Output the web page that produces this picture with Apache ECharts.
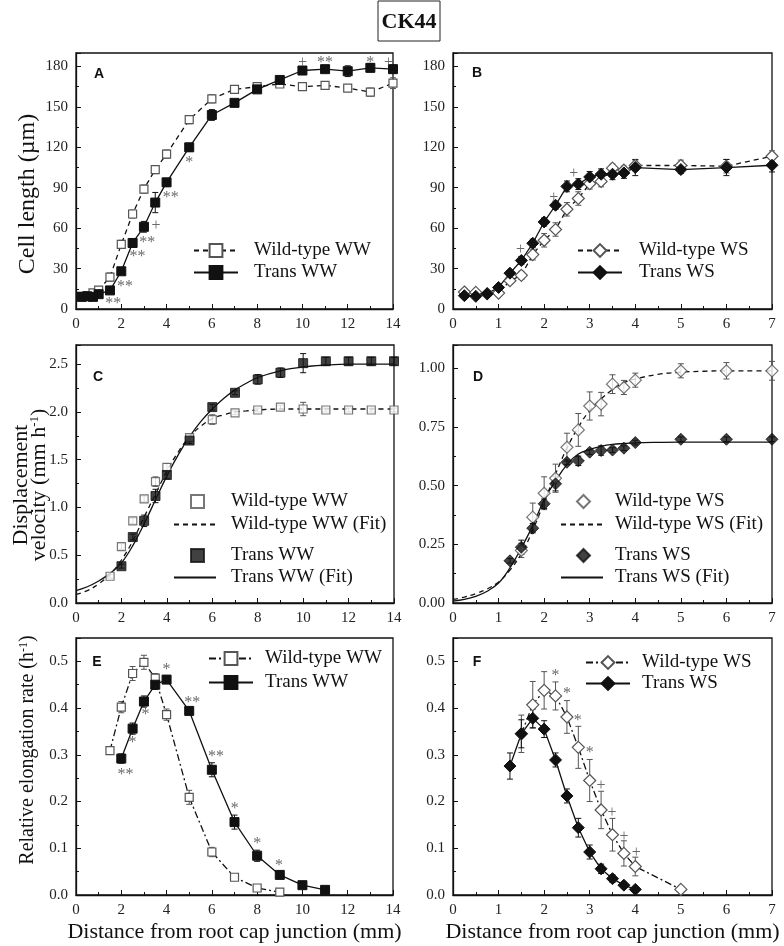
<!DOCTYPE html>
<html>
<head>
<meta charset="utf-8">
<title>CK44</title>
<script src="https://cdn.jsdelivr.net/npm/echarts@6/dist/echarts.min.js"></script>
<style>
  html, body { margin: 0; padding: 0; background: #fff; }
  #chart { width: 784px; height: 946px; }
</style>
</head>
<body>
<div id="chart"></div>
<script>
// ---- data ----
// A: cell length, well watered
const xA = [0.25, 0.5, 0.75, 1, 1.5, 2, 2.5, 3, 3.5, 4, 5, 6, 7, 8, 9, 10, 11, 12, 13, 14]
const wtA = [9.4, 10, 12, 14, 23.7, 48, 70.5, 89, 103.5, 115, 140.5, 156, 163, 165, 167, 165, 166, 164, 161, 167.6]
const wtAErr = [1, 1, 1.5, 2, 3, 3, 3, 3, 3, 3, 3, 3, 2, 2, 2, 2, 2, 2, 3, 4]
const trA = [9, 9.4, 9, 11, 13.8, 28, 49, 61, 79, 94, 120, 144, 153, 163, 170, 177, 178, 176.5, 179, 178]
const trAErr = [1, 1, 1, 1.5, 2, 2, 3, 4, 7.5, 3, 3, 4, 2, 2, 2, 3, 2, 4, 3, 3]
const sigA = [[1.65, 6, "**"], [2.16, 19, "**"], [2.72, 41, "**"], [3.15, 51, "**"], [3.53, 64, "+"], [4.19, 85, "**"], [5.0, 111, "*"],
  [10, 185, "+"], [11, 185, "**"], [13, 185, "*"], [13.8, 185, "+"]]

// B: cell length, water stress
const xB = [0.25, 0.5, 0.75, 1, 1.25, 1.5, 1.75, 2, 2.25, 2.5, 2.75, 3, 3.25, 3.5, 3.75, 4, 5, 6, 7]
const wtB = [12.6, 12.3, 11.3, 11.8, 21, 25, 40.4, 51, 59, 74, 82, 93, 94.7, 104.5, 103, 106.5, 106.5, 106, 113.4]
const wtBErr = [2, 2, 2, 2, 2, 3, 4, 5, 5, 5, 5, 4, 4, 3, 3, 4, 4, 5, 4]
const trB = [9.9, 9.4, 11.3, 16, 26.6, 36, 48.8, 64.6, 77, 91, 92.7, 98, 100, 100, 101, 105, 103.5, 105, 106.7]
const trBErr = [1.5, 1.5, 2, 2, 2, 3, 3, 3, 3, 4, 4, 4, 4, 4, 4, 6, 3, 6, 5]
const sigB = [[1.48, 46, "+"], [2.21, 85, "+"], [2.65, 102.5, "+"]]

// C: displacement velocity, well watered
const wtCX = [1.5, 2, 2.5, 3, 3.5, 4, 5, 6, 7, 8, 9, 10, 11, 12, 13, 14]
const wtC = [0.28, 0.59, 0.86, 1.09, 1.27, 1.42, 1.73, 1.92, 1.99, 2.02, 2.05, 2.03, 2.02, 2.02, 2.02, 2.02]
const wtCErr = [0.02, 0.03, 0.03, 0.03, 0.05, 0.04, 0.03, 0.05, 0.02, 0.02, 0.02, 0.07, 0.02, 0.02, 0.02, 0.02]
const trCX = [2, 2.5, 3, 3.5, 4, 5, 6, 7, 8, 9, 10, 11, 12, 13, 14]
const trC = [0.385, 0.69, 0.86, 1.12, 1.34, 1.70, 2.05, 2.20, 2.34, 2.41, 2.51, 2.53, 2.53, 2.53, 2.53]
const trCErr = [0.02, 0.03, 0.06, 0.07, 0.04, 0.03, 0.03, 0.02, 0.05, 0.05, 0.1, 0.04, 0.04, 0.04, 0.04]
const fitCX = [0, 0.5, 1, 1.5, 2, 2.5, 3, 3.5, 4, 4.5, 5, 5.5, 6, 6.5, 7, 7.5, 8, 9, 10, 11, 12, 13, 14]
const wtCFit = [0.09, 0.13, 0.2, 0.3, 0.45, 0.65, 0.9, 1.14, 1.38, 1.58, 1.74, 1.85, 1.93, 1.97, 2.0, 2.01, 2.02, 2.03, 2.03, 2.03, 2.03, 2.03, 2.03]
const trCFit = [0.13, 0.17, 0.23, 0.31, 0.42, 0.6, 0.83, 1.08, 1.33, 1.55, 1.74, 1.9, 2.03, 2.14, 2.23, 2.3, 2.36, 2.43, 2.47, 2.49, 2.5, 2.5, 2.5]

// D: displacement velocity, water stress
const wtDX = [1.5, 1.75, 2, 2.25, 2.5, 2.75, 3, 3.25, 3.5, 3.75, 4, 5, 6, 7]
const wtD = [0.224, 0.366, 0.468, 0.532, 0.664, 0.738, 0.84, 0.848, 0.933, 0.919, 0.95, 0.99, 0.99, 0.99]
const wtDErr = [0.03, 0.06, 0.07, 0.06, 0.06, 0.07, 0.06, 0.05, 0.04, 0.03, 0.03, 0.03, 0.035, 0.04]
const trDX = [1.25, 1.5, 1.75, 2, 2.25, 2.5, 2.75, 3, 3.25, 3.5, 3.75, 4, 5, 6, 7]
const trD = [0.18, 0.238, 0.319, 0.423, 0.508, 0.60, 0.606, 0.643, 0.65, 0.652, 0.66, 0.684, 0.698, 0.698, 0.698]
const trDErr = [0.01, 0.03, 0.02, 0.02, 0.03, 0.01, 0.02, 0.01, 0.02, 0.01, 0.01, 0.01, 0.01, 0.01, 0.01]
const fitDX = [0, 0.25, 0.5, 0.75, 1, 1.25, 1.5, 1.75, 2, 2.25, 2.5, 2.75, 3, 3.25, 3.5, 3.75, 4, 4.5, 5, 5.5, 6, 6.5, 7]
const wtDFit = [0.015, 0.025, 0.04, 0.06, 0.09, 0.14, 0.21, 0.31, 0.43, 0.55, 0.66, 0.75, 0.82, 0.87, 0.91, 0.94, 0.955, 0.975, 0.984, 0.988, 0.99, 0.99, 0.99]
const trDFit = [0.008, 0.015, 0.028, 0.05, 0.085, 0.15, 0.235, 0.33, 0.44, 0.52, 0.59, 0.635, 0.655, 0.668, 0.676, 0.68, 0.683, 0.685, 0.686, 0.686, 0.686, 0.686, 0.686]

// E: relative elongation rate, well watered
const wtEX = [1.5, 2, 2.5, 3, 3.5, 4, 5, 6, 7, 8, 9]
const wtE = [0.309, 0.402, 0.474, 0.498, 0.464, 0.386, 0.209, 0.092, 0.038, 0.015, 0.006]
const wtEErr = [0.008, 0.012, 0.015, 0.015, 0.01, 0.012, 0.015, 0.01, 0.005, 0.005, 0.005]
const trEX = [2, 2.5, 3, 3.5, 4, 5, 6, 7, 8, 9, 10, 11]
const trE = [0.292, 0.356, 0.414, 0.45, 0.461, 0.394, 0.268, 0.156, 0.084, 0.043, 0.021, 0.011]
const trEErr = [0.01, 0.012, 0.012, 0.01, 0.008, 0.008, 0.015, 0.015, 0.012, 0.008, 0.005, 0.005]
const sigE = [[2.19, 0.264, "**"], [2.5, 0.332, "*"], [3.07, 0.393, "*"], [4.0, 0.488, "*"], [5.13, 0.418, "**"], [6.18, 0.302, "**"],
  [7.01, 0.191, "*"], [8.0, 0.116, "*"], [8.97, 0.069, "*"]]

// F: relative elongation rate, water stress
const wtFX = [1.5, 1.75, 2, 2.25, 2.5, 2.75, 3, 3.25, 3.5, 3.75, 4, 5]
const wtF = [0.345, 0.407, 0.438, 0.426, 0.381, 0.316, 0.245, 0.182, 0.129, 0.089, 0.061, 0.012]
const wtFErr = [0.04, 0.05, 0.04, 0.03, 0.035, 0.045, 0.045, 0.04, 0.035, 0.027, 0.02, 0.005]
const trFX = [1.25, 1.5, 1.75, 2, 2.25, 2.5, 2.75, 3, 3.25, 3.5, 3.75, 4]
const trF = [0.276, 0.345, 0.378, 0.355, 0.289, 0.212, 0.144, 0.092, 0.056, 0.035, 0.021, 0.012]
const trFErr = [0.028, 0.03, 0.02, 0.018, 0.015, 0.015, 0.02, 0.015, 0.01, 0.008, 0.006, 0.005]
const sigF = [[2.25, 0.475, "*"], [2.5, 0.436, "*"], [2.74, 0.38, "*"], [3.0, 0.31, "*"], [3.25, 0.24, "+"], [3.49, 0.182, "+"],
  [3.75, 0.132, "+"], [4.02, 0.096, "+"]]

// ---- styling helpers ----
const SERIF = '"Liberation Serif", "Times New Roman", serif'
const SANS = '"Liberation Sans", Arial, sans-serif'
const INK = "#111"
const GREY = "#555"

const pairs = (xs, ys) => xs.map((x, i) => [x, ys[i]])

// panel rectangles in px
const grids = [
  { left: 76, top: 53, width: 317, height: 256 },
  { left: 453, top: 53, width: 319, height: 256 },
  { left: 76, top: 345, width: 318, height: 258 },
  { left: 453, top: 345, width: 319, height: 258 },
  { left: 76, top: 638, width: 317, height: 257 },
  { left: 453, top: 638, width: 319, height: 257 }
]

function xAxisFor(gi, max, interval, name) {
  return {
    type: "value", gridIndex: gi, min: 0, max: max, interval: interval,
    axisLine: { show: true, onZero: false, lineStyle: { color: INK, width: 1.3 } },
    axisTick: { show: true, inside: true, length: 5, lineStyle: { color: INK } },
    minorTick: { show: true, splitNumber: 2, length: 3, lineStyle: { color: INK } },
    axisLabel: { color: "#222", fontFamily: SERIF, fontSize: 15, margin: 8 },
    splitLine: { show: false },
    name: name || "", nameLocation: "middle", nameGap: 26,
    nameTextStyle: { fontFamily: SERIF, fontSize: 22, color: INK }
  }
}

function yAxisFor(gi, max, interval, digits) {
  return {
    type: "value", gridIndex: gi, min: 0, max: max, interval: interval,
    axisLine: { show: true, onZero: false, lineStyle: { color: INK, width: 1.3 } },
    axisTick: { show: true, inside: true, length: 5, lineStyle: { color: INK } },
    minorTick: { show: true, splitNumber: 2, length: 3, lineStyle: { color: INK } },
    axisLabel: {
      color: "#222", fontFamily: SERIF, fontSize: 15, margin: 8, showMaxLabel: false,
      formatter: v => v.toFixed(digits)
    },
    splitLine: { show: false }
  }
}

// open / filled marker styles
const openStyle = { color: "#fff", borderColor: GREY, borderWidth: 1.2 }
const fillStyle = { color: INK, borderColor: INK, borderWidth: 1 }

function lineSeries(name, gi, xs, ys, opts) {
  return Object.assign({
    name: name, type: "line", xAxisIndex: gi, yAxisIndex: gi,
    data: pairs(xs, ys), z: 3, animation: false
  }, opts)
}

function markerLine(name, gi, xs, ys, symbol, size, open, dash) {
  return lineSeries(name, gi, xs, ys, {
    symbol: symbol, symbolSize: size, showSymbol: true,
    itemStyle: open ? openStyle : fillStyle,
    lineStyle: { color: INK, width: 1.3, type: dash || "solid" }
  })
}

// fitted curves: no markers, so the legend symbol is made invisible too
function fitLine(name, gi, xs, ys, dash) {
  return lineSeries(name, gi, xs, ys, {
    symbol: "none", showSymbol: false, smooth: 0.4, z: 2,
    itemStyle: { color: INK, opacity: 0 },
    lineStyle: { color: INK, width: 1.3, type: dash || "solid", opacity: 1 }
  })
}

function scatterSeries(name, gi, xs, ys, symbol, size, open) {
  return {
    name: name, type: "scatter", xAxisIndex: gi, yAxisIndex: gi,
    data: pairs(xs, ys), symbol: symbol, symbolSize: size, z: 4, animation: false,
    itemStyle: open ? openStyle : fillStyle
  }
}

// vertical error bars with small caps
function errorBars(gi, xs, ys, es, color) {
  return {
    type: "custom", xAxisIndex: gi, yAxisIndex: gi, z: 1, silent: true, animation: false,
    encode: { x: 0, y: [1, 2] },
    data: xs.map((x, i) => [x, ys[i] - es[i], ys[i] + es[i]]),
    renderItem: function (params, api) {
      const lo = api.coord([api.value(0), api.value(1)])
      const hi = api.coord([api.value(0), api.value(2)])
      const st = { stroke: color, lineWidth: 1 }
      return {
        type: "group",
        children: [
          { type: "line", shape: { x1: lo[0], y1: lo[1], x2: hi[0], y2: hi[1] }, style: st },
          { type: "line", shape: { x1: hi[0] - 3, y1: hi[1], x2: hi[0] + 3, y2: hi[1] }, style: st },
          { type: "line", shape: { x1: lo[0] - 3, y1: lo[1], x2: lo[0] + 3, y2: lo[1] }, style: st }
        ]
      }
    }
  }
}

// significance marks (*, **, +)
function marks(gi, list) {
  return {
    type: "scatter", xAxisIndex: gi, yAxisIndex: gi, symbolSize: 1, z: 5, silent: true, animation: false,
    itemStyle: { color: "rgba(0,0,0,0)" },
    data: list.map(d => ({ value: [d[0], d[1]], name: d[2] })),
    label: {
      show: true, position: "inside", formatter: "{b}", offset: [0, 3],
      fontFamily: SERIF, fontSize: 16, color: "#444"
    }
  }
}

function legendFor(names, left, top, w, h, gap, padLeft) {
  return {
    orient: "vertical", left: left, top: top, padding: 0,
    data: names, itemWidth: w, itemHeight: h, itemGap: gap, selectedMode: false,
    formatter: n => n.split("|")[1],
    textStyle: { fontFamily: SERIF, fontSize: 19, color: INK, lineHeight: 19, padding: [0, 0, 0, padLeft] }
  }
}

const DASH = [5, 4]
const DASHDOT = [7, 3, 2, 3]

const series = [
  // A
  errorBars(0, xA, wtA, wtAErr, GREY),
  errorBars(0, xA, trA, trAErr, INK),
  markerLine("A|Wild-type WW", 0, xA, wtA, "rect", 8, true, DASH),
  markerLine("A|Trans WW", 0, xA, trA, "rect", 9, false),
  marks(0, sigA),
  // B
  errorBars(1, xB, wtB, wtBErr, GREY),
  errorBars(1, xB, trB, trBErr, INK),
  markerLine("B|Wild-type WS", 1, xB, wtB, "diamond", 12, true, DASH),
  markerLine("B|Trans WS", 1, xB, trB, "diamond", 12, false),
  marks(1, sigB),
  // C
  errorBars(2, wtCX, wtC, wtCErr, GREY),
  errorBars(2, trCX, trC, trCErr, INK),
  fitLine("C|Wild-type WW (Fit)", 2, fitCX, wtCFit, DASH),
  fitLine("C|Trans WW (Fit)", 2, fitCX, trCFit),
  scatterSeries("C|Wild-type WW", 2, wtCX, wtC, "rect", 8, true),
  scatterSeries("C|Trans WW", 2, trCX, trC, "rect", 9, false),
  // D
  errorBars(3, wtDX, wtD, wtDErr, GREY),
  errorBars(3, trDX, trD, trDErr, INK),
  fitLine("D|Wild-type WS (Fit)", 3, fitDX, wtDFit, DASH),
  fitLine("D|Trans WS (Fit)", 3, fitDX, trDFit),
  scatterSeries("D|Wild-type WS", 3, wtDX, wtD, "diamond", 12, true),
  scatterSeries("D|Trans WS", 3, trDX, trD, "diamond", 12, false),
  // E
  errorBars(4, wtEX, wtE, wtEErr, GREY),
  errorBars(4, trEX, trE, trEErr, INK),
  markerLine("E|Wild-type WW", 4, wtEX, wtE, "rect", 8, true, DASHDOT),
  markerLine("E|Trans WW", 4, trEX, trE, "rect", 9, false),
  marks(4, sigE),
  // F
  errorBars(5, wtFX, wtF, wtFErr, GREY),
  errorBars(5, trFX, trF, trFErr, INK),
  markerLine("F|Wild-type WS", 5, wtFX, wtF, "diamond", 12, true, DASHDOT),
  markerLine("F|Trans WS", 5, trFX, trF, "diamond", 12, false),
  marks(5, sigF)
]

const legends = [
  legendFor(["A|Wild-type WW", "A|Trans WW"], 193, 241, 44, 16, 3, 11),
  legendFor(["B|Wild-type WS", "B|Trans WS"], 577, 241, 44, 16, 3, 12),
  legendFor(["C|Wild-type WW"], 190, 492, 13, 13, 0, 22),
  legendFor(["C|Wild-type WW (Fit)"], 173, 515, 42, 16, 0, 10),
  legendFor(["C|Trans WW"], 190, 546, 13, 13, 0, 22),
  legendFor(["C|Trans WW (Fit)"], 173, 568, 42, 16, 0, 10),
  legendFor(["D|Wild-type WS"], 576, 492, 13, 13, 0, 20),
  legendFor(["D|Wild-type WS (Fit)"], 560, 515, 42, 16, 0, 7),
  legendFor(["D|Trans WS"], 576, 546, 13, 13, 0, 20),
  legendFor(["D|Trans WS (Fit)"], 560, 568, 42, 16, 0, 7),
  legendFor(["E|Wild-type WW", "E|Trans WW"], 208, 649, 44, 16, 5, 7),
  legendFor(["F|Wild-type WS", "F|Trans WS"], 585, 653, 44, 16, 2, 7)
]

// panel letters, axis titles and the boxed heading
const letter = (t, x, y) => ({
  type: "text", x: x, y: y, silent: true,
  style: { text: t, fontFamily: SANS, fontWeight: "bold", fontSize: 14, fill: INK, align: "center", verticalAlign: "middle" }
})
const vTitle = (text, x, y, size) => ({
  type: "text", x: x, y: y, rotation: Math.PI / 2, silent: true,
  style: {
    text: text, align: "center", verticalAlign: "middle",
    rich: {
      a: { fontFamily: SERIF, fontSize: size, fill: INK },
      s: { fontFamily: SERIF, fontSize: Math.round(size * 0.6), fill: INK, verticalAlign: "top", padding: [0, 0, 8, 0] }
    }
  }
})

const graphics = [
  { type: "rect", shape: { x: 378, y: 1, width: 62, height: 40 }, style: { fill: "#fff", stroke: "#222", lineWidth: 1 }, silent: true },
  { type: "text", x: 409, y: 22, silent: true,
    style: { text: "CK44", fontFamily: SERIF, fontWeight: "bold", fontSize: 22, fill: INK, align: "center", verticalAlign: "middle" } },
  letter("A", 99, 74), letter("B", 477, 73), letter("C", 98, 377),
  letter("D", 478, 377), letter("E", 97, 662), letter("F", 477, 662),
  vTitle("{a|Cell length (µm)}", 28, 194, 24),
  vTitle("{a|Displacement}", 21, 485, 22),
  vTitle("{a|velocity (mm h}{s|-1}{a|)}", 39, 485, 22),
  vTitle("{a|Relative elongation rate (h}{s|-1}{a|)}", 28, 750, 20)
]

const chart = echarts.init(document.getElementById("chart"), null, { renderer: "canvas" })
chart.setOption({
  backgroundColor: "#fff",
  animation: false,
  grid: grids.map(g => Object.assign({ show: true, borderColor: INK, borderWidth: 1.3, backgroundColor: "transparent" }, g)),
  xAxis: [
    xAxisFor(0, 14, 2), xAxisFor(1, 7, 1),
    xAxisFor(2, 14, 2), xAxisFor(3, 7, 1),
    xAxisFor(4, 14, 2, "Distance from root cap junction (mm)"),
    xAxisFor(5, 7, 1, "Distance from root cap junction (mm)")
  ],
  yAxis: [
    yAxisFor(0, 190, 30, 0), yAxisFor(1, 190, 30, 0),
    yAxisFor(2, 2.7, 0.5, 1), yAxisFor(3, 1.1, 0.25, 2),
    yAxisFor(4, 0.55, 0.1, 1), yAxisFor(5, 0.55, 0.1, 1)
  ],
  legend: legends,
  graphic: graphics,
  series: series
})
</script>
</body>
</html>
